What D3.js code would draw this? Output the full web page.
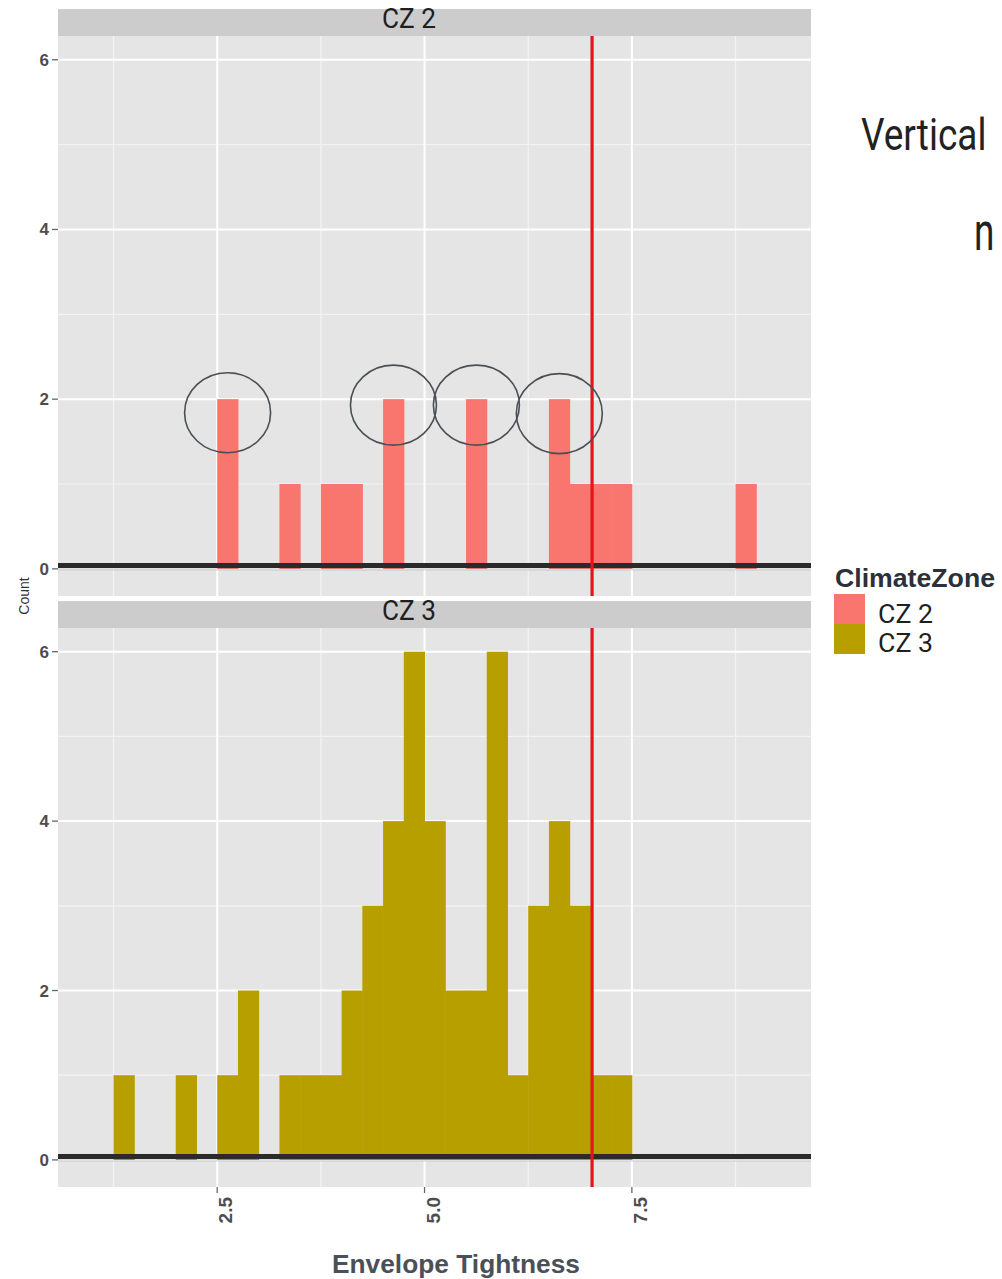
<!DOCTYPE html>
<html>
<head>
<meta charset="utf-8">
<script src="https://cdn.jsdelivr.net/npm/d3@7"></script>
<style>
  html, body { margin: 0; padding: 0; background: #ffffff; }
  svg { display: block; }
</style>
</head>
<body>
<svg id="chart" width="1002" height="1279"></svg>
<script>
// ---------- data ----------
const binStarts = [1.25,1.5,1.75,2.0,2.25,2.5,2.75,3.0,3.25,3.5,3.75,4.0,4.25,4.5,4.75,5.0,5.25,5.5,5.75,6.0,6.25,6.5,6.75,7.0,7.25,7.5,7.75,8.0,8.25,8.5,8.75];
const binWidth = 0.25;
const countsCZ2 = [0,0,0,0,0,2,0,0,1,0,1,1,0,2,0,0,0,2,0,0,0,2,1,1,1,0,0,0,0,0,1];
const countsCZ3 = [1,0,0,1,0,1,2,0,1,1,1,2,3,4,6,4,2,2,6,1,3,4,3,1,1,0,0,0,0,0,0];
const zones = ["CZ 2", "CZ 3"];
const zoneColors = ["#F8766D", "#B79F00"];
const xTicks = [2.5, 5.0, 7.5];
const xTickLabels = ["2.5", "5.0", "7.5"];
const xMinor = [1.25, 3.75, 6.25, 8.75];
const yTicks = [0, 2, 4, 6];
const yMinor = [1, 3, 5];
const thresholdX = 7.02;     // red vertical reference line
const baselineY = 0.04;      // black horizontal reference line
// circled peaks in CZ 2 panel (bin centres, count level)
const circleX = [2.625, 4.625, 5.625, 6.625];
const circleY = [1.84, 1.93, 1.93, 1.83];

// ---------- layout ----------
const svg = d3.select("#chart");
const panelLeft = 58, panelRight = 811;
const panels = [
  { stripTop: 9, top: 36, bottom: 596, counts: countsCZ2 },
  { stripTop: 601, top: 628, bottom: 1187, counts: countsCZ3 }
];
const x = d3.scaleLinear().domain([0.58, 9.66]).range([panelLeft, panelRight]);

panels.forEach((p, i) => {
  const y = d3.scaleLinear().domain([-0.32, 6.28]).range([p.bottom, p.top]);
  const g = svg.append("g");

  // strip
  g.append("rect").attr("x", panelLeft).attr("y", p.stripTop)
    .attr("width", panelRight - panelLeft).attr("height", p.top - p.stripTop)
    .attr("fill", "#CCCCCC");
  g.append("text").attr("x", 382).attr("y", p.stripTop + 19)
    .attr("font-family", "Roboto, 'Liberation Sans Narrow', sans-serif")
    .attr("font-size", 28).attr("fill", "#1f1f1f")
    .attr("textLength", 54).attr("lengthAdjust", "spacingAndGlyphs")
    .text(zones[i]);

  // panel background
  g.append("rect").attr("x", panelLeft).attr("y", p.top)
    .attr("width", panelRight - panelLeft).attr("height", p.bottom - p.top)
    .attr("fill", "#E5E5E5");

  // minor grid
  g.selectAll(".vminor").data(xMinor).enter().append("line")
    .attr("x1", d => x(d)).attr("x2", d => x(d)).attr("y1", p.top).attr("y2", p.bottom)
    .attr("stroke", "#F3F3F3").attr("stroke-width", 1.2);
  g.selectAll(".hminor").data(yMinor).enter().append("line")
    .attr("x1", panelLeft).attr("x2", panelRight).attr("y1", d => y(d)).attr("y2", d => y(d))
    .attr("stroke", "#F3F3F3").attr("stroke-width", 1.2);
  // major grid
  g.selectAll(".vmajor").data(xTicks).enter().append("line")
    .attr("x1", d => x(d)).attr("x2", d => x(d)).attr("y1", p.top).attr("y2", p.bottom)
    .attr("stroke", "#FFFFFF").attr("stroke-width", 2);
  g.selectAll(".hmajor").data(yTicks).enter().append("line")
    .attr("x1", panelLeft).attr("x2", panelRight).attr("y1", d => y(d)).attr("y2", d => y(d))
    .attr("stroke", "#FFFFFF").attr("stroke-width", 2);

  // bars
  const bins = binStarts.map((s, k) => ({ x0: s, x1: s + binWidth, n: p.counts[k] })).filter(d => d.n > 0);
  g.selectAll(".bar").data(bins).enter().append("rect")
    .attr("x", d => x(d.x0)).attr("width", d => x(d.x1) - x(d.x0) + 0.5)
    .attr("y", d => y(d.n)).attr("height", d => y(0) - y(d.n))
    .attr("fill", zoneColors[i]);

  // y axis labels and ticks
  g.selectAll(".ytick").data(yTicks).enter().append("line")
    .attr("x1", 52).attr("x2", panelLeft).attr("y1", d => y(d)).attr("y2", d => y(d))
    .attr("stroke", "#666").attr("stroke-width", 1.3);
  g.selectAll(".ylab").data(yTicks).enter().append("text")
    .attr("x", 49).attr("y", d => y(d) + 6)
    .attr("text-anchor", "end")
    .attr("font-family", "'Liberation Sans', Arial, sans-serif").attr("font-weight", "bold")
    .attr("font-size", 17).attr("fill", "#4d4d4d")
    .text(d => d);

  // black horizontal reference line with soft shadow
  g.append("line").attr("x1", panelLeft).attr("x2", panelRight)
    .attr("y1", y(baselineY) + 3).attr("y2", y(baselineY) + 3)
    .attr("stroke", "#000").attr("stroke-opacity", 0.12).attr("stroke-width", 4);
  g.append("line").attr("x1", panelLeft).attr("x2", panelRight)
    .attr("y1", y(baselineY)).attr("y2", y(baselineY))
    .attr("stroke", "#2a2a2a").attr("stroke-width", 5);

  // red vertical reference line
  g.append("line").attr("x1", x(thresholdX)).attr("x2", x(thresholdX))
    .attr("y1", p.top).attr("y2", p.bottom)
    .attr("stroke", "#E8121C").attr("stroke-width", 3.2);

  // circled peaks (top panel only)
  if (i === 0) {
    g.selectAll(".circ").data(circleX.map((cx, k) => ({ cx, cy: circleY[k] }))).enter()
      .append("ellipse")
      .attr("cx", d => x(d.cx)).attr("cy", d => y(d.cy))
      .attr("rx", 43).attr("ry", 40)
      .attr("fill", "none").attr("stroke", "#4a4f55").attr("stroke-width", 1.6);
  }

  // x axis on bottom panel
  if (i === 1) {
    g.selectAll(".xtick").data(xTicks).enter().append("line")
      .attr("x1", d => x(d)).attr("x2", d => x(d)).attr("y1", p.bottom).attr("y2", p.bottom + 6)
      .attr("stroke", "#666").attr("stroke-width", 1.3);
    g.selectAll(".xlab").data(xTicks).enter().append("text")
      .attr("transform", d => `translate(${x(d) + 15},${p.bottom + 10}) rotate(-90)`)
      .attr("text-anchor", "end")
      .attr("font-family", "'Liberation Sans', Arial, sans-serif").attr("font-weight", "bold")
      .attr("font-size", 19).attr("fill", "#4d4d4d")
      .text((d, k) => xTickLabels[k]);
  }
});

// y axis title
svg.append("text")
  .attr("transform", "translate(29,596) rotate(-90)")
  .attr("text-anchor", "middle")
  .attr("font-family", "'Liberation Sans', Arial, sans-serif")
  .attr("font-size", 14).attr("fill", "#333")
  .text("Count");

// x axis title
svg.append("text")
  .attr("x", 456).attr("y", 1273)
  .attr("text-anchor", "middle")
  .attr("font-family", "'Liberation Sans', Arial, sans-serif").attr("font-weight", "bold")
  .attr("font-size", 25).attr("fill", "#4b5058")
  .attr("textLength", 248).attr("lengthAdjust", "spacingAndGlyphs")
  .text("Envelope Tightness");

// legend
const legend = svg.append("g");
legend.append("text").attr("x", 835).attr("y", 587)
  .attr("font-family", "'Liberation Sans', Arial, sans-serif").attr("font-weight", "bold")
  .attr("font-size", 25).attr("fill", "#2b303a")
  .attr("textLength", 160).attr("lengthAdjust", "spacingAndGlyphs")
  .text("ClimateZone");
zones.forEach((z, k) => {
  legend.append("rect").attr("x", 834).attr("y", 594 + k * 30)
    .attr("width", 31).attr("height", 30).attr("fill", zoneColors[k]);
  legend.append("text").attr("x", 878).attr("y", 623 + k * 29)
    .attr("font-family", "Roboto, 'Liberation Sans Narrow', sans-serif")
    .attr("font-size", 26).attr("fill", "#1f1f1f")
    .attr("textLength", 55).attr("lengthAdjust", "spacingAndGlyphs")
    .text(z);
});

// cropped slide text on the right (condensed by vertical stretch)
svg.append("text").attr("transform", "translate(861,150) scale(1,1.18)")
  .attr("font-family", "Roboto, sans-serif").attr("font-size", 37).attr("fill", "#222")
  .text("Vertical");
svg.append("text").attr("transform", "translate(974,250) scale(1,1.45)")
  .attr("font-family", "Roboto, sans-serif").attr("font-size", 37).attr("fill", "#222")
  .text("n");
</script>
</body>
</html>
